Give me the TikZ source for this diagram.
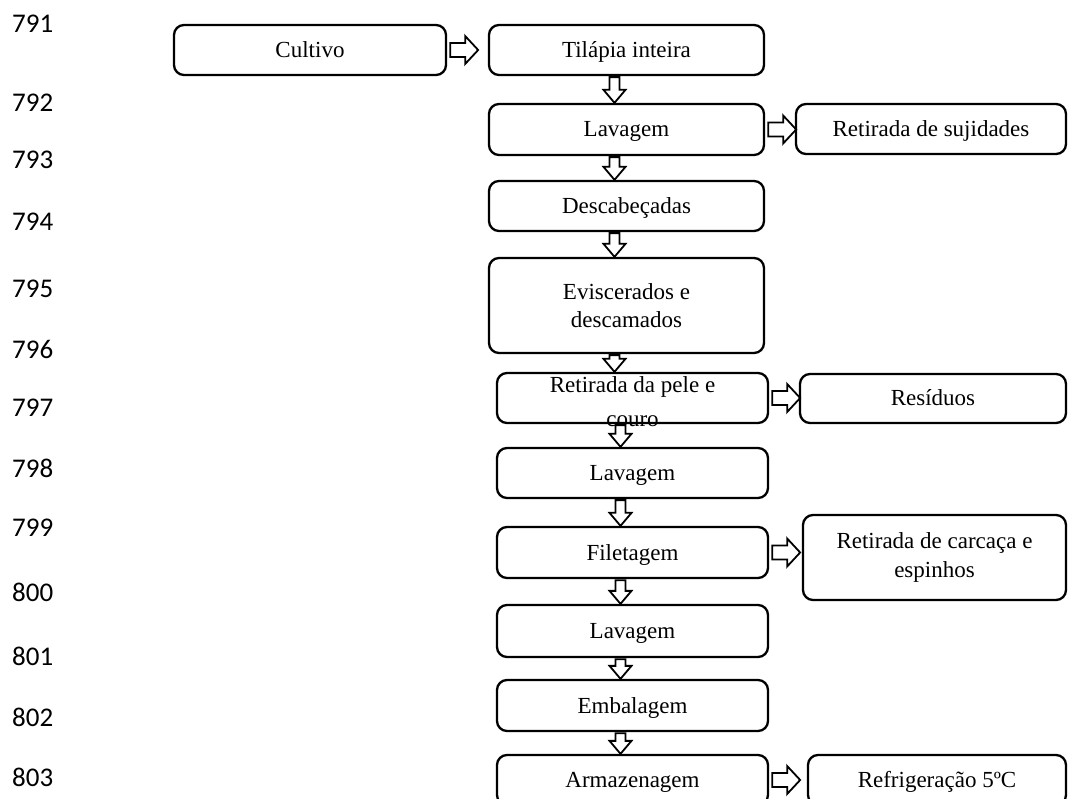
\documentclass[tikz,border=0pt]{standalone}
\usepackage{fontspec}
\setmainfont{Liberation Serif}
\newfontfamily\numfont{Carlito}
\usetikzlibrary{calc}
\newcommand\darr[2]{%
  \draw[blockarr] let \p1=(#1.south), \p2=(#2.north), \n1={scalar(\y1-\y2)-1} in
  ([xshift=-17pt,yshift=-1pt]#1.south) -- ++(0,{\n1-13}) -- ++(-6,0) -- ++(11,13)
  -- ++(11,-13) -- ++(-6,0) -- ++(0,{13-\n1}) -- cycle;}
\newcommand\rarr[2]{%
  \draw[blockarr] ([xshift=3pt,yshift=7pt]#1.east) -- ++(15,0) -- ++(0,-7) -- ++(13,14)
  -- ++(-13,14) -- ++(0,-7) -- ++(-15,0) -- cycle;}
\begin{document}
\begin{tikzpicture}[x=1pt,y=-1pt,
  box/.style={draw, line width=2.3pt, rounded corners=10pt, inner sep=0pt,
    align=center, font=\fontsize{23}{28.5}\selectfont},
  one/.style={text height=20pt, text depth=5pt},
  txt/.style={inner sep=0pt, font=\fontsize{23}{28.5}\selectfont},
  blockarr/.style={draw, line width=1.8pt, fill=white, line join=miter},
  num/.style={anchor=west, inner sep=0pt, font=\numfont\fontsize{27}{30}\selectfont}]
\clip (0,0) rectangle (1069,799);
\fill[white] (0,0) rectangle (1069,799);
% line numbers
\foreach \n/\y in {791/24,792/103,793/160,794/222,795/289,796/349,797/408,798/468,799/528,800/592,801/656,802/717,803/777}
  \node[num] (ln\n) at (12,\y) {\n};
% main column
\node[box, one, minimum width=272pt, minimum height=50pt] (cultivo) at (310,50) {Cultivo};
\node[box, one, minimum width=275pt, minimum height=50pt] (tilapia) at (626.5,50) {Tilápia inteira};
\node[box, one, minimum width=275pt, minimum height=51pt] (lav1) at (626.5,129.5) {Lavagem};
\node[box, one, minimum width=275pt, minimum height=50pt] (desc) at (626.5,206) {Descabeçadas};
\node[box, minimum width=275pt, minimum height=95pt] (evisc) at (626.5,305.5) {Eviscerados e\\descamados};
\node[box, minimum width=271pt, minimum height=50pt] (pele) at (632.5,398) {};
\node[txt, anchor=base] (pele1) at (632.5,393) {Retirada da pele e};
\node[txt, anchor=base] (pele2) at (632.5,427) {couro};
\node[box, one, minimum width=271pt, minimum height=50pt] (lav2) at (632.5,473) {Lavagem};
\node[box, one, minimum width=271pt, minimum height=51pt] (filet) at (632.5,552.5) {Filetagem};
\node[box, one, minimum width=271pt, minimum height=52pt] (lav3) at (632.5,631) {Lavagem};
\node[box, one, minimum width=271pt, minimum height=51pt] (emb) at (632.5,705.5) {Embalagem};
\node[box, one, minimum width=271pt, minimum height=50pt] (arm) at (632.5,780) {Armazenagem};
% side boxes
\node[box, one, minimum width=270pt, minimum height=50pt] (suj) at (931,129) {Retirada de sujidades};
\node[box, one, minimum width=266pt, minimum height=49pt] (res) at (933,398.5) {Resíduos};
\node[box, minimum width=263pt, minimum height=85pt] (carc) at (934.5,557.5) {Retirada de carcaça e\\espinhos};
\node[box, one, minimum width=258pt, minimum height=50pt] (refr) at (937,780) {Refrigeração 5ºC};
% arrows
\rarr{cultivo}{tilapia}
\rarr{lav1}{suj}
\rarr{pele}{res}
\rarr{filet}{carc}
\rarr{arm}{refr}
\darr{tilapia}{lav1}
\darr{lav1}{desc}
\darr{desc}{evisc}
\darr{evisc}{pele}
\darr{pele}{lav2}
\darr{lav2}{filet}
\darr{filet}{lav3}
\darr{lav3}{emb}
\darr{emb}{arm}
\end{tikzpicture}
\end{document}
